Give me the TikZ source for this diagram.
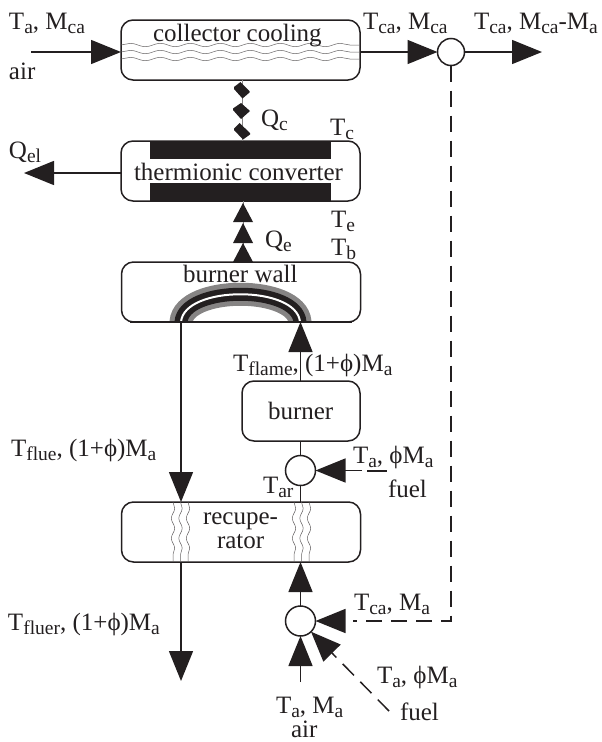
\documentclass[tikz,border=0pt]{standalone}
\usepackage{fontspec}
\setmainfont{Liberation Serif}
\usetikzlibrary{arrows.meta,decorations.pathmorphing}
\definecolor{ink}{HTML}{231F20}
\newcommand{\sbs}[1]{\raisebox{-4pt}{\fontsize{19.5}{19.5}\selectfont #1}}
\tikzset{
  unitbox/.style={draw=ink,line width=1.5pt,rounded corners=12pt,minimum width=239pt,minimum height=60pt,inner sep=0pt,outer sep=0pt},
  mixer/.style={circle,draw=ink,fill=white,line width=1.5pt,inner sep=0pt,outer sep=0pt,minimum size=30pt},
  lbl/.style={anchor=base west,inner sep=0pt,outer sep=0pt,text=ink,font=\fontsize{25}{25}\selectfont},
  flow/.style={draw=ink,line width=1.5pt,-{Triangle[length=30pt,width=24pt,color=ink]}},
  plain/.style={draw=ink,line width=1.5pt},
  dashflow/.style={flow,dash pattern=on 16pt off 9pt},
  dashline/.style={plain,dash pattern=on 16pt off 9pt},
  ripple/.style={draw=ink!70,line width=0.5pt,decorate,decoration={snake,segment length=#1,amplitude=1.7pt}},
  heat/.style={draw=ink!55,line width=0.6pt},
  barfill/.style={fill=ink,draw=none},
  heatblob/.style={fill=ink,draw=none},
}
\begin{document}
\begin{tikzpicture}[x=1pt,y=-1pt]
\useasboundingbox (0,0) rectangle (602,742);
% boxes
\node[unitbox] (coll) at (240.5,50) {};
\node[unitbox] (therm) at (240.5,171) {};
\node[unitbox] (wall) at (241,292) {};
\node[unitbox,minimum width=118pt] (burner) at (301,411) {};
\node[unitbox] (recup) at (241,532) {};
% burner wall arch
\begin{scope}
\clip (160,270) rectangle (320,322);
\foreach \c/\w in {ink!55/23,ink/13,white/2}
  \draw[color=\c,line width=\w pt] (181,330) -- (181,322) .. controls (184,285) and (297,285) .. (300,322) -- (300,330);
\end{scope}
\draw[draw=ink,line width=1.5pt] (130,322) -- (352,322);
% converter plates
\fill[barfill] (150,141) rectangle (331,159);
\fill[barfill] (150,183) rectangle (331,201);
% ripples
\foreach \y in {45,52,59}
  \draw[ripple=30pt] (121,\y) -- (360,\y);
\foreach \x in {173,180.5,188,294,301.5,309}
  \draw[ripple=20pt] (\x,502) -- (\x,562);
% mixers
\node[mixer,minimum size=27pt] (topmix) at (451,52) {};
\node[mixer] (midmix) at (300.5,470.5) {};
\node[mixer] (botmix) at (300.5,621) {};
% free ends
\coordinate (airin) at (31,52);
\coordinate (qelend) at (24,173);
\coordinate (outend) at (542,52);
\coordinate (corner) at (451,621);
\coordinate (fluerend) at (181,681);
\coordinate (airbot) at (300.5,682);
\coordinate (fuelmid) at (362,470.5);
\coordinate (fuelmidA) at (367,471);
\coordinate (fuelmidB) at (387,471);
\coordinate (fuelbot) at (389,711);
\coordinate (hcross) at (353,621);
% connectors
\draw[flow] (airin) -- (coll.west |- airin);
\draw[flow] (coll.east |- topmix) -- (topmix);
\draw[flow] (topmix) -- (outend);
\draw[flow] (therm.west |- qelend) -- (qelend);
\draw[dashline] (topmix) -- (corner) -- (hcross);
\draw[flow,dash pattern=on 0pt off 400pt] (hcross) -- (botmix);
\draw[flow] (burner.north -| midmix) -- (wall.south -| midmix);
\draw[plain] (midmix) -- (burner.south -| midmix);
\draw[plain] (recup.north -| midmix) -- (midmix);
\draw[flow] (botmix) -- (recup.south -| botmix);
\draw[flow] (airbot) -- (botmix);
\draw[flow] (fuelmid) -- (midmix);
\draw[plain] (fuelmidA) -- (fuelmidB);
\draw[dashflow] (fuelbot) -- (botmix);
\draw[flow] (wall.south -| fluerend) -- (recup.north -| fluerend);
\draw[flow] (recup.south -| fluerend) -- (fluerend);
% heat to and from converter
\draw[heat] (coll.south -| 242,0) -- (therm.north -| 242,0);
\fill[heatblob] (240.5,82) -- (249.5,91) -- (249.5,92.5) -- (242.5,98.5) -- (234,89) -- (234,87) -- cycle;
\fill[heatblob] (241,103) -- (250,111) -- (241,119) -- (233,110) -- (233,108.5) -- cycle;
\fill[heatblob] (239.5,123) -- (250,133) -- (250,134.5) -- (243,139.5) -- (234,130) -- (234,128.5) -- cycle;
\draw[heat] (wall.north -| 243,0) -- (therm.south -| 243,0);
\fill[ink] (243,203) -- (253,222) -- (233,222) -- cycle;
\fill[ink] (243,223) -- (253,243) -- (233,243) -- cycle;
\fill[ink] (243,243) -- (253,262) -- (233,262) -- cycle;
% labels
\node[lbl] (t1) at (9,29) {T\sbs{a}, M\sbs{ca}};
\node[lbl] (t2) at (9,79) {air};
\node[lbl] (t3) at (153,41) {collector cooling};
\node[lbl] (t4) at (261,126) {Q\sbs{c}};
\node[lbl] (t5) at (9,158) {Q\sbs{el}};
\node[lbl] (t6) at (134,180) {thermionic converter};
\node[lbl] (t7) at (363,29) {T\sbs{ca}, M\sbs{ca}};
\node[lbl] (t8) at (474,29) {T\sbs{ca}, M\sbs{ca}-M\sbs{a}};
\node[lbl] (t9) at (330,135) {T\sbs{c}};
\node[lbl] (t10) at (331,227) {T\sbs{e}};
\node[lbl] (t11) at (331,255) {T\sbs{b}};
\node[lbl] (t12) at (265,247) {Q\sbs{e}};
\node[lbl] (t13) at (183,282) {burner wall};
\node[lbl] (t14) at (233,371) {T\sbs{flame}, (1+ϕ)M\sbs{a}};
\node[lbl] (t15) at (268,419) {burner};
\node[lbl] (t16) at (11,456) {T\sbs{flue}, (1+ϕ)M\sbs{a}};
\node[lbl] (t17) at (263,493) {T\sbs{ar}};
\node[lbl] (t18) at (353,463) {T\sbs{a}, ϕM\sbs{a}};
\node[lbl] (t19) at (388,497) {fuel};
\node[lbl] (t20) at (203,524) {recupe-};
\node[lbl] (t21) at (217,548) {rator};
\node[lbl] (t22) at (8,630) {T\sbs{fluer}, (1+ϕ)M\sbs{a}};
\node[lbl] (t23) at (354,610) {T\sbs{ca}, M\sbs{a}};
\node[lbl] (t24) at (377,683) {T\sbs{a}, ϕM\sbs{a}};
\node[lbl] (t25) at (400,720) {fuel};
\node[lbl] (t26) at (276,713) {T\sbs{a}, M\sbs{a}};
\node[lbl] (t27) at (291,737) {air};
\end{tikzpicture}
\end{document}
